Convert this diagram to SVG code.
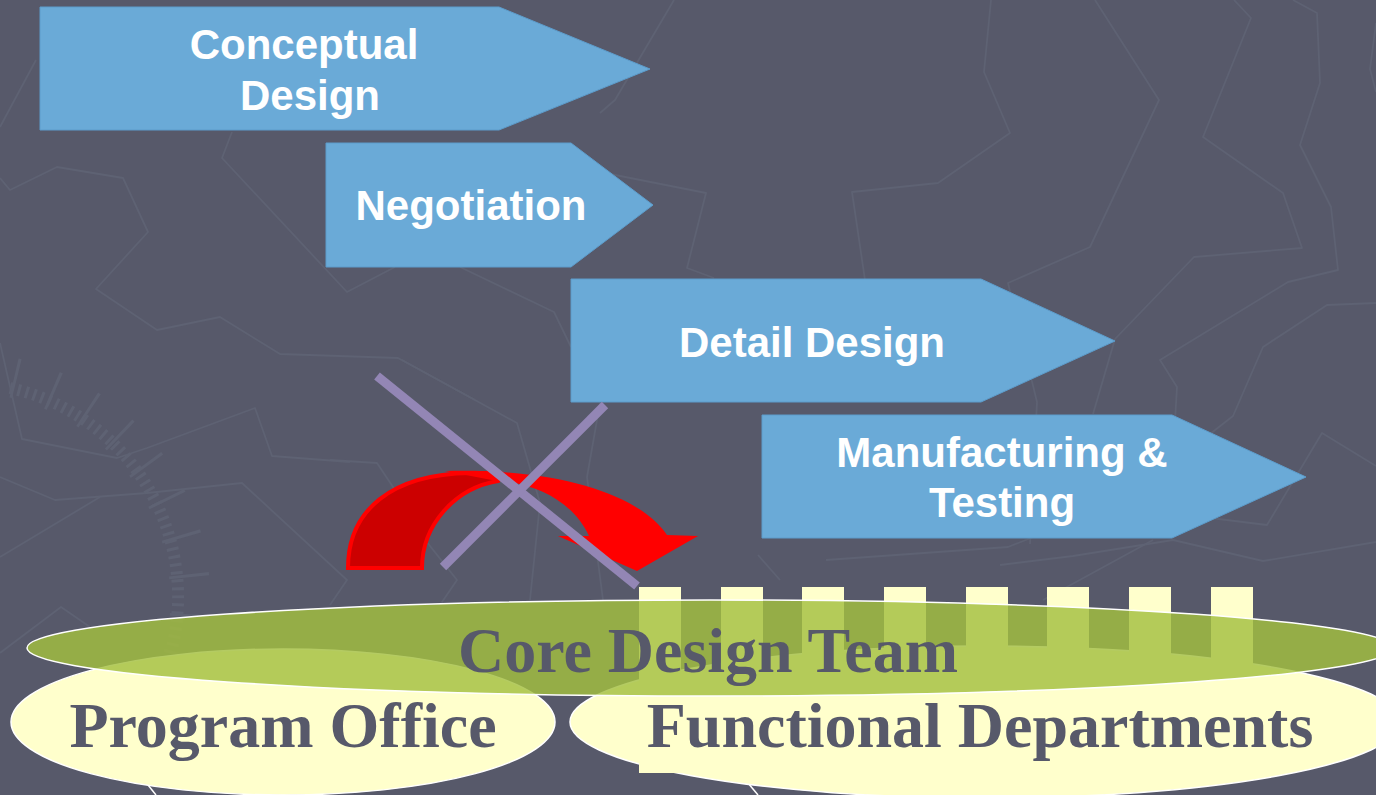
<svg xmlns="http://www.w3.org/2000/svg" width="1376" height="795" viewBox="0 0 1376 795">
  <defs>
    <style>
      .map { fill: none; stroke: #5e6273; stroke-width: 1.8; stroke-linejoin: round; }
      .tick { fill: none; stroke: #5e6273; }
      .phase { fill: #6aaad7; stroke: #5d9ccb; stroke-width: 1; }
      .phase-label { font-family: "Liberation Sans", Arial, sans-serif; font-weight: bold; font-size: 42px; fill: #ffffff; text-anchor: middle; }
      .org-label { font-family: "Liberation Serif", "Times New Roman", serif; font-weight: bold; font-size: 64px; fill: #57596a; text-anchor: middle; }
      .unit { fill: #ffffcc; stroke: #ffffff; stroke-width: 1.5; }
      .pillar { fill: #ffffcc; }
      .cross { stroke: #9386b5; stroke-width: 9; stroke-linecap: butt; }
    </style>
  </defs>

  <!-- backdrop with faint map texture -->
  <g id="backdrop">
    <rect x="0" y="0" width="1376" height="795" fill="#57596a"/>
    <polyline class="map" points="0,178 10,190 57,167 123,178 148,232 96,289 157,330 220,317 280,354 398,358 475,400"/>
    <polyline class="map" points="0,343 22,439 117,458 147,448 255,408 272,456 350,462"/>
    <polyline class="map" points="0,477 55,500 147,493 242,483 347,580 330,605"/>
    <polyline class="map" points="0,557 100,497"/>
    <polyline class="map" points="0,127 36,60"/>
    <polyline class="map" points="232,132 222,158 347,292 395,267"/>
    <polyline class="map" points="460,267 554,312 571,347"/>
    <polyline class="map" points="674,0 615,100 600,113"/>
    <polyline class="map" points="991,0 984,72 1010,133 938,183 852,192 865,280"/>
    <polyline class="map" points="1095,0 1159,100 1090,247 1008,283 1037,402 1030,544"/>
    <polyline class="map" points="1234,0 1251,18 1203,137 1283,193 1302,248 1194,257 1115,339"/>
    <polyline class="map" points="1115,339 1093,414"/>
    <polyline class="map" points="1293,0 1317,13 1320,83 1300,145 1331,207 1338,270 1288,282 1160,360 1177,387 1175,421"/>
    <polyline class="map" points="1376,23 1370,69 1376,92"/>
    <polyline class="map" points="1376,303 1327,305 1263,347 1233,416 1187,452"/>
    <polyline class="map" points="1376,466 1322,433 1267,525 1170,513"/>
    <polyline class="map" points="1000,565 1073,556 1173,540 1263,561 1376,542"/>
    <polyline class="map" points="1043,600 1153,540"/>
    <polyline class="map" points="600,172 706,193 687,268 714,278"/>
    <polyline class="map" points="758,555 780,580"/>
    <polyline class="map" points="826,560 1008,547 1102,510"/>
    <polyline class="map" points="330,460 377,463 393,487 407,517 457,580 440,605"/>
    <polyline class="map" points="402,360 517,423 540,503 530,600"/>
    <polyline class="map" points="600,403 587,477 603,600"/>
    <polyline class="map" points="0,653 61,607 90,627"/>
    <!-- compass scale -->
    <path class="tick" stroke-width="12" stroke-dasharray="3 5" d="M 10,388 A 214 214 0 0 1 166,668"/>
    <path class="tick" stroke-width="40" stroke-dasharray="3 37" d="M 14,378 A 228 228 0 0 1 180,668"/>
    <line x1="148" y1="785" x2="156" y2="795" stroke="#ffffff" stroke-width="1.5"/>
    <line x1="748" y1="783" x2="758" y2="795" stroke="#ffffff" stroke-width="1.5"/>
  </g>

  <!-- process phases -->
  <g id="phase-conceptual">
    <polygon class="phase" points="40,7 499,7 650,69 499,130 40,130"/>
    <text class="phase-label" x="304" y="59">Conceptual</text>
    <text class="phase-label" x="310" y="110">Design</text>
  </g>
  <g id="phase-negotiation">
    <polygon class="phase" points="326,143 571,143 653,205 571,267 326,267"/>
    <text class="phase-label" x="471" y="220">Negotiation</text>
  </g>
  <g id="phase-detail">
    <polygon class="phase" points="571,279 981,279 1115,341 981,402 571,402"/>
    <text class="phase-label" x="812" y="357">Detail Design</text>
  </g>
  <g id="phase-manufacturing">
    <polygon class="phase" points="762,415 1172,415 1306,477 1172,538 762,538"/>
    <text class="phase-label" x="1002" y="467">Manufacturing &amp;</text>
    <text class="phase-label" x="1002" y="517">Testing</text>
  </g>

  <!-- organisation units -->
  <g id="functional-departments">
    <ellipse class="unit" cx="985" cy="722" rx="415" ry="76"/>
  </g>
  <g id="program-office">
    <ellipse class="unit" cx="283" cy="722" rx="272" ry="73"/>
  </g>
  <g id="pillars">
    <rect class="pillar" x="639" y="587" width="42" height="186"/>
    <rect class="pillar" x="721" y="587" width="42" height="186"/>
    <rect class="pillar" x="802" y="587" width="42" height="186"/>
    <rect class="pillar" x="884" y="587" width="42" height="186"/>
    <rect class="pillar" x="966" y="587" width="42" height="186"/>
    <rect class="pillar" x="1047" y="587" width="42" height="186"/>
    <rect class="pillar" x="1129" y="587" width="42" height="186"/>
    <rect class="pillar" x="1211" y="587" width="42" height="186"/>
  </g>
  <g id="core-design-team">
    <ellipse cx="710" cy="648" rx="683" ry="48" fill="#a4bf40" fill-opacity="0.82" stroke="#ffffff" stroke-width="1.5"/>
    <text class="org-label" x="708" y="672">Core Design Team</text>
  </g>
  <g id="unit-labels">
    <text class="org-label" x="283" y="747">Program Office</text>
    <text class="org-label" x="980" y="747">Functional Departments</text>
  </g>

  <!-- hand-over arrow, struck out -->
  <g id="connectors">
    <path d="M 348,568 C 348,510 392,474 470,473 L 500,473 L 498,481 C 455,488 422,525 422,568 Z" fill="#cc0000" stroke="#ff0000" stroke-width="4" stroke-linejoin="miter"/>
    <path d="M 445,471 C 560,468 640,495 667,535 L 698,536 L 637,571 L 558,536 L 589,536 C 575,505 540,483 497,481 Z" fill="#ff0000"/>
    <line class="cross" x1="377" y1="376" x2="637" y2="586"/>
    <line class="cross" x1="605" y1="405" x2="443" y2="567"/>
  </g>
</svg>
